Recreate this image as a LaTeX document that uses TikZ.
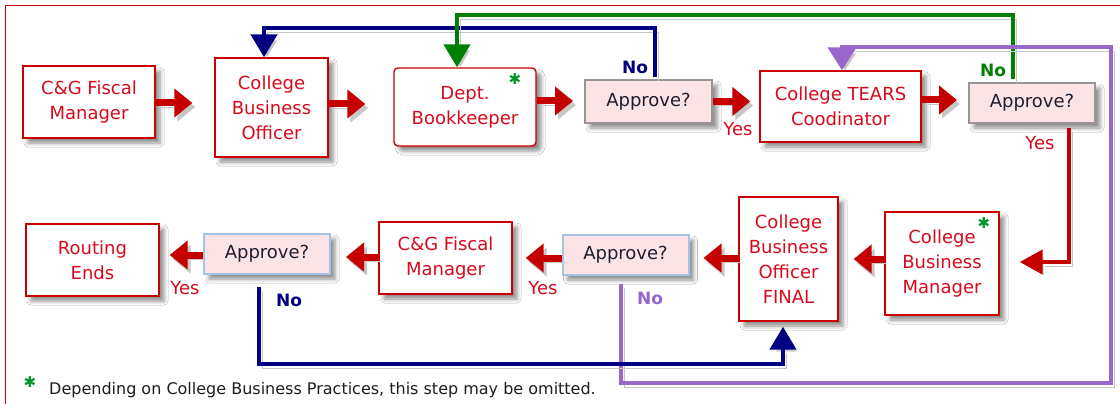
\documentclass[tikz,border=0pt]{standalone}
\usepackage{fontspec}
\setmainfont{DejaVu Sans}
\usetikzlibrary{arrows.meta,shadows.blur}
\definecolor{boxred}{RGB}{204,0,0}
\definecolor{txtred}{RGB}{215,10,30}
\definecolor{arrred}{RGB}{196,0,0}
\definecolor{navy}{RGB}{0,0,128}
\definecolor{ggreen}{RGB}{0,128,0}
\definecolor{purp}{RGB}{153,102,204}
\definecolor{apfill}{RGB}{252,228,230}
\definecolor{apgray}{RGB}{150,150,150}
\definecolor{apblue}{RGB}{165,195,228}
\definecolor{aptext}{RGB}{30,30,50}
\definecolor{stargreen}{RGB}{0,150,40}
\definecolor{foottext}{RGB}{30,30,30}
\begin{document}
\begin{tikzpicture}[x=1pt,y=-1pt,
  boxshade/.style={blur shadow={shadow xshift=5pt,shadow yshift=-5pt,shadow blur radius=4pt,shadow opacity=45}},
  lshade/.style={preaction={draw=black!22,transform canvas={shift={(3pt,-4pt)}}}},
  stepbox/.style={draw=boxred,line width=1.4pt,fill=white,text=txtred,align=center,
    font=\fontsize{18}{25}\selectfont,inner sep=0pt,boxshade},
  apbox/.style={draw=apgray,line width=2pt,fill=apfill,text=aptext,
    font=\fontsize{18}{25}\selectfont,inner sep=0pt,minimum width=126pt,minimum height=40pt,boxshade},
  apboxb/.style={apbox,draw=apblue},
  bigarr/.style={draw=arrred,line width=7pt,-{Triangle[length=18pt,width=28pt]},lshade},
  routeline/.style={line width=4.5pt,lshade,line join=miter},
  blueline/.style={routeline,draw=navy,-{Triangle[length=23pt,width=26pt]}},
  greenline/.style={routeline,draw=ggreen,-{Triangle[length=23pt,width=26pt]}},
  purpline/.style={routeline,draw=purp,-{Triangle[length=23pt,width=28pt]}},
  redline/.style={routeline,draw=arrred,-{Triangle[length=23pt,width=24pt]}},
  yeslab/.style={text=txtred,font=\fontsize{18}{20}\selectfont,inner sep=0pt},
  nolab/.style={font=\bfseries\fontsize{17}{20}\selectfont,inner sep=0pt},
  starlab/.style={text=stargreen,font=\fontsize{15}{15}\selectfont,inner sep=0pt}
]
\useasboundingbox (0,0) rectangle (1120,404);
\fill[white] (0,0) rectangle (1120,404);
\draw[draw=boxred,line width=1.8pt] (5.5,410) -- (5.5,5.5) -- (1125,5.5);

% routing levels
\coordinate (lvG) at (0,15);
\coordinate (lvB) at (0,28);
\coordinate (lvP) at (0,47);
\coordinate (lvR) at (0,262);
\coordinate (lvBb) at (0,364);
\coordinate (lvPb) at (0,383);
\coordinate (xP) at (1111,0);

% nodes
\node[stepbox,minimum width=132pt,minimum height=72pt] (cgf1) at (89,102) {C\&G Fiscal\\Manager};
\node[stepbox,minimum width=113pt,minimum height=99pt] (cbo) at (271.5,107.5) {College\\Business\\Officer};
\node[stepbox,rounded corners=4pt,minimum width=142pt,minimum height=78pt] (bk) at (465,107) {Dept.\\Bookkeeper};
\node[apbox,minimum width=127pt,minimum height=43pt] (ap1) at (648.5,101.5) {Approve?};
\node[stepbox,minimum width=161pt,minimum height=71pt] (tears) at (840.5,106.5) {College TEARS\\Coodinator};
\node[apbox] (ap2) at (1032,103) {Approve?};
\node[stepbox,minimum width=114pt,minimum height=103pt] (cbm) at (942,263.5) {College\\Business\\Manager};
\node[stepbox,minimum width=99pt,minimum height=124pt] (cbof) at (788.5,259) {College\\Business\\Officer\\FINAL};
\node[apboxb] (ap3) at (625.5,255) {Approve?};
\node[stepbox,minimum width=133pt,minimum height=72pt] (cgf2) at (445.5,258) {C\&G Fiscal\\Manager};
\node[apboxb] (ap4) at (267,254) {Approve?};
\node[stepbox,minimum width=133pt,minimum height=72pt] (rend) at (92.5,260) {Routing\\Ends};

% stars
\node[starlab] (s1) at (515,79) {✱};
\node[starlab] (s2) at (984,223) {✱};

% main flow arrows
\draw[bigarr,shorten >=22pt] ([yshift=-1pt]cgf1.east) -- ([yshift=-1pt]cgf1.east -| cbo.west);
\draw[bigarr,shorten >=28pt] ([yshift=3.5pt]cbo.east) -- ([yshift=3.5pt]cbo.east -| bk.west);
\draw[bigarr,shorten >=11pt] ([yshift=6pt]bk.east) -- ([yshift=6pt]bk.east -| ap1.west);
\draw[bigarr,shorten >=9pt] (ap1.east) -- (ap1.east -| tears.west);
\draw[bigarr,shorten >=11pt] ([yshift=6.5pt]tears.east) -- ([yshift=6.5pt]tears.east -| ap2.west);
\draw[bigarr,shorten >=15pt] ([yshift=4.5pt]cbm.west) -- ([yshift=4.5pt]cbm.west -| cbof.east);
\draw[bigarr,shorten >=14pt] ([yshift=1pt]cbof.west) -- ([yshift=1pt]cbof.west -| ap3.east);
\draw[bigarr,shorten >=13pt] ([yshift=-3pt]ap3.west) -- ([yshift=-3pt]ap3.west -| cgf2.east);
\draw[bigarr,shorten >=15pt] ([yshift=1pt]cgf2.west) -- ([yshift=1pt]cgf2.west -| ap4.east);
\draw[bigarr,shorten >=10pt] ([yshift=-1pt]ap4.west) -- ([yshift=-1pt]ap4.west -| rend.east);

% return lines
\coordinate (b1) at ([xshift=6.5pt]ap1.north);
\coordinate (b2) at ([xshift=-7.5pt]cbo.north);
\draw[blueline,shorten <=2pt] (b1) -- (b1 |- lvB) -| (b2);

\coordinate (g1) at ([xshift=-19pt]ap2.north);
\coordinate (g2) at ([xshift=-8pt]bk.north);
\draw[greenline,shorten <=3pt] (g1) -- (g1 |- lvG) -| (g2);

\coordinate (p1) at ([xshift=-4.5pt]ap3.south);
\coordinate (p2) at ([xshift=1.5pt]tears.north);
\draw[purpline,shorten <=8pt] (p1) -- (p1 |- lvPb) -- (xP |- lvPb) -- (xP |- lvP) -| (p2);

\coordinate (r1) at ([xshift=37pt]ap2.south);
\draw[redline,shorten <=4pt,shorten >=20pt] (r1) -- (r1 |- lvR) -- (cbm.east |- lvR);

\coordinate (n1) at ([xshift=-8pt]ap4.south);
\coordinate (n2) at ([xshift=-5.5pt]cbof.south);
\draw[blueline,shorten <=12pt,shorten >=5pt] (n1) -- (n1 |- lvBb) -| (n2);

% labels
\node[nolab,text=navy] (no1) at (635,67) {No};
\node[yeslab] (yes1) at (738,129) {Yes};
\node[nolab,text=ggreen] (no2) at (993,70) {No};
\node[yeslab] (yes2) at (1040,143) {Yes};
\node[yeslab] (yes3) at (543,288) {Yes};
\node[nolab,text=purp] (no3) at (650,298) {No};
\node[yeslab] (yes4) at (185,288) {Yes};
\node[nolab,text=navy] (no4) at (289,300) {No};

% footnote
\node[starlab] (s3) at (30,382) {✱};
\node[anchor=west,text=foottext,font=\fontsize{16}{18}\selectfont,inner sep=0pt] (foot) at (49,390) {Depending on College Business Practices, this step may be omitted.};
\end{tikzpicture}
\end{document}
